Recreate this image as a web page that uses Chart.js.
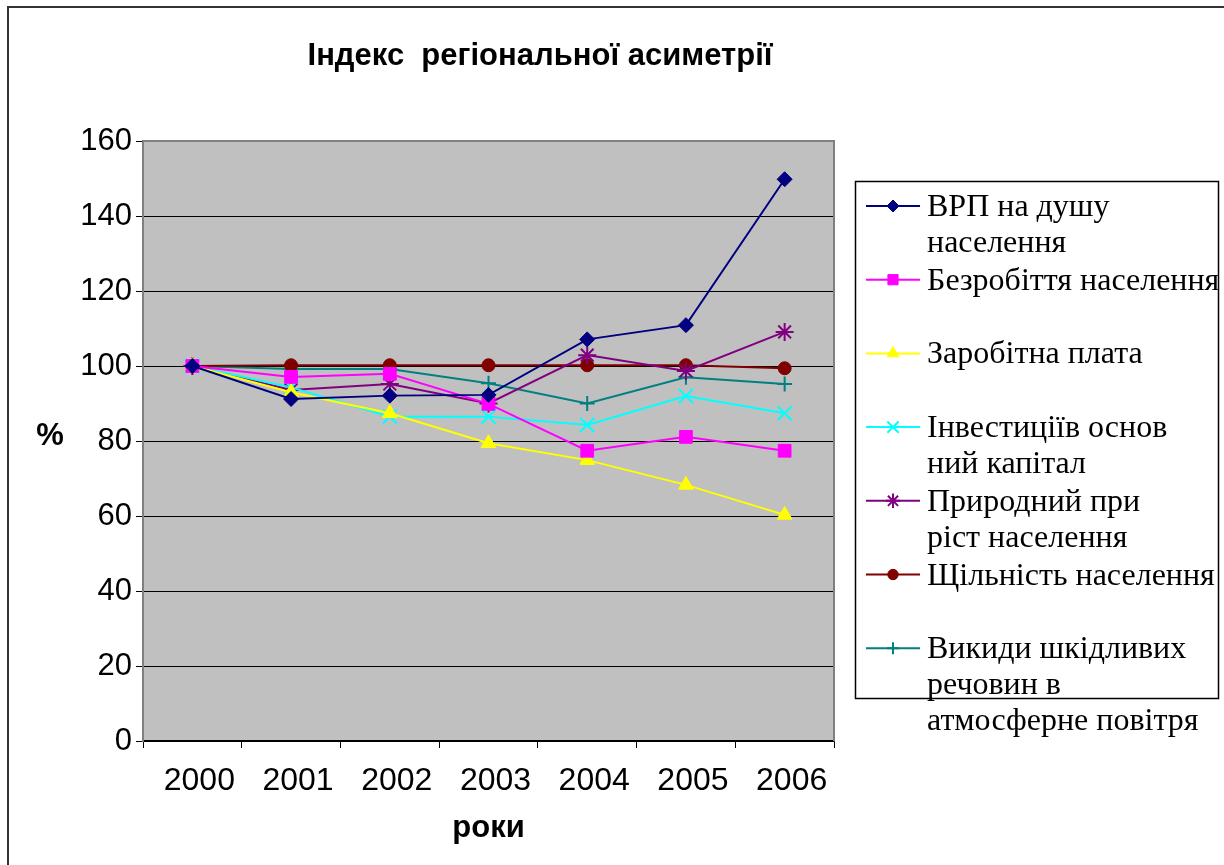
<!DOCTYPE html>
<html><head><meta charset="utf-8">
<script src="https://cdn.jsdelivr.net/npm/chart.js@4/dist/chart.umd.min.js"></script>
<style>html,body{margin:0;padding:0;background:#fff;}canvas{display:block;}</style>
</head><body>
<canvas id="c" width="1224" height="865"></canvas>
<script>
const chartTitle = 'Індекс  регіональної асиметрії';
const yAxisTitle = '%';
const xAxisTitle = 'роки';
const years = ['2000', '2001', '2002', '2003', '2004', '2005', '2006'];
const yTickValues = [0, 20, 40, 60, 80, 100, 120, 140, 160];

const vrpPerCapita   = [100, 91.2, 92.1, 92.3, 107.1, 110.9, 149.8];
const unemployment   = [100, 97.1, 97.9, 89.9, 77.4, 81.1, 77.4];
const wages          = [100, 93.0, 87.4, 79.4, 74.9, 68.3, 60.3];
const investment     = [100, 94.3, 86.5, 86.5, 84.3, 92.0, 87.4];
const naturalGrowth  = [100, 93.6, 95.2, 90.0, 102.9, 98.7, 109.1];
const density        = [100, 100.2, 100.2, 100.2, 100.2, 100.2, 99.4];
const emissions      = [100, 99.2, 99.2, 95.4, 90.0, 97.0, 95.2];

const seriesNames = [
  'ВРП на душу населення',
  'Безробіття населення',
  'Заробітна плата',
  'Інвестиціїв основний капітал',
  'Природний приріст населення',
  'Щільність населення',
  'Викиди шкідливих речовин в атмосферне повітря'
];
const legendLines = [
  ['ВРП на душу', 'населення'],
  ['Безробіття населення'],
  ['Заробітна плата'],
  ['Інвестиціїв основ', 'ний капітал'],
  ['Природний при', 'ріст населення'],
  ['Щільність населення'],
  ['Викиди шкідливих', 'речовин в', 'атмосферне повітря']
];
const seriesValues = [vrpPerCapita, unemployment, wages, investment, naturalGrowth, density, emissions];
const seriesColors = ['#000080', '#FF00FF', '#FFFF00', '#00FFFF', '#800080', '#800000', '#008080'];
const seriesStyles = ['rectRot', 'rect', 'triangle', 'crossRot', 'star', 'circle', 'cross'];
const seriesRadii = [7.5, 9, 8.5, 10, 9, 6.5, 7.5];

const datasets = seriesValues.map((vals, i) => ({
  label: seriesNames[i],
  data: vals,
  borderColor: seriesColors[i],
  backgroundColor: seriesColors[i],
  pointBackgroundColor: seriesColors[i],
  pointBorderColor: seriesColors[i],
  pointStyle: seriesStyles[i],
  pointRadius: seriesRadii[i],
  pointBorderWidth: (seriesStyles[i] === 'crossRot' || seriesStyles[i] === 'star' || seriesStyles[i] === 'cross') ? 2 : 1,
  borderWidth: 2,
  fill: false,
  tension: 0
}));

const SANS = '"Liberation Sans", Arial, sans-serif';
const SERIF = '"Liberation Serif", "Times New Roman", serif';

const decor = {
  id: 'decor',
  beforeDraw(chart) {
    const ctx = chart.ctx, a = chart.chartArea;
    ctx.save();
    ctx.fillStyle = '#ffffff';
    ctx.fillRect(0, 0, chart.width, chart.height);
    ctx.fillStyle = '#C0C0C0';
    ctx.fillRect(a.left, a.top, a.right - a.left, a.bottom - a.top);
    ctx.restore();
  },
  afterDraw(chart) {
    const ctx = chart.ctx, a = chart.chartArea;
    ctx.save();
    ctx.strokeStyle = '#333';
    ctx.lineWidth = 2;
    ctx.beginPath();
    ctx.moveTo(8, chart.height + 2);
    ctx.lineTo(8, 7);
    ctx.lineTo(chart.width + 2, 7);
    ctx.stroke();
    ctx.strokeStyle = '#808080';
    ctx.lineWidth = 2;
    ctx.beginPath();
    ctx.moveTo(a.left, a.top);
    ctx.lineTo(a.right, a.top);
    ctx.lineTo(a.right, a.bottom);
    ctx.stroke();
    ctx.fillStyle = '#000';
    ctx.font = 'bold 31px ' + SANS;
    ctx.textAlign = 'center';
    ctx.textBaseline = 'alphabetic';
    ctx.fillText(chartTitle, 540, 65);
    ctx.fillText(yAxisTitle, 50, 445);
    ctx.strokeStyle = '#000';
    ctx.lineWidth = 1.5;
    ctx.strokeRect(855.5, 181.5, 363, 517);
    ctx.font = '32px ' + SERIF;
    ctx.textAlign = 'left';
    const dsets = chart.data.datasets;
    for (let i = 0; i < dsets.length; i++) {
      const base = 216 + i * 73.7;
      const sy = base - 10;
      ctx.strokeStyle = dsets[i].borderColor;
      ctx.lineWidth = 2;
      ctx.beginPath();
      ctx.moveTo(866, sy);
      ctx.lineTo(920, sy);
      ctx.stroke();
      if (Chart.helpers && Chart.helpers.drawPoint) {
        ctx.fillStyle = dsets[i].pointBackgroundColor;
        ctx.strokeStyle = dsets[i].pointBorderColor;
        ctx.lineWidth = dsets[i].pointBorderWidth;
        Chart.helpers.drawPoint(ctx, {pointStyle: dsets[i].pointStyle, radius: dsets[i].pointRadius * 0.8, rotation: 0, borderWidth: dsets[i].pointBorderWidth}, 893, sy);
      }
      ctx.fillStyle = '#000';
      const lines = legendLines[i];
      for (let k = 0; k < lines.length; k++) {
        ctx.fillText(lines[k], 927, base + k * 36);
      }
    }
    ctx.restore();
  }
};

new Chart(document.getElementById('c'), {
  type: 'line',
  data: { labels: years, datasets },
  options: {
    responsive: false,
    animation: false,
    devicePixelRatio: 1,
    layout: { padding: { top: 141, right: 390, left: 0, bottom: 0 } },
    plugins: { legend: { display: false }, title: { display: false }, tooltip: { enabled: false } },
    scales: {
      x: {
        type: 'category',
        offset: true,
        grid: { offset: true, drawOnChartArea: false, drawTicks: true, tickLength: 7, color: '#000', lineWidth: 1 },
        border: { display: true, color: '#000', width: 1.5 },
        ticks: { color: '#000', font: { size: 32, family: SANS }, padding: 14, maxRotation: 0, autoSkip: false, labelOffset: 7 },
        title: { display: true, text: xAxisTitle, color: '#000', font: { size: 31, weight: 'bold', family: SANS }, padding: { top: 0, bottom: 18 } },
        afterFit(s) { s.height = 124; }
      },
      y: {
        min: 0, max: 160,
        afterBuildTicks(s) { s.ticks = yTickValues.map(v => ({ value: v })); },
        grid: {
          color: c => (c.tick && c.tick.value === 160) ? '#808080' : '#000',
          tickColor: '#000', lineWidth: 1, drawTicks: true, tickLength: 7
        },
        border: { display: true, color: '#808080', width: 2 },
        ticks: { color: '#000', font: { size: 31, family: SANS }, padding: 4 },
        afterFit(s) { s.width = 143; }
      }
    }
  },
  plugins: [decor]
});
</script>
</body></html>
